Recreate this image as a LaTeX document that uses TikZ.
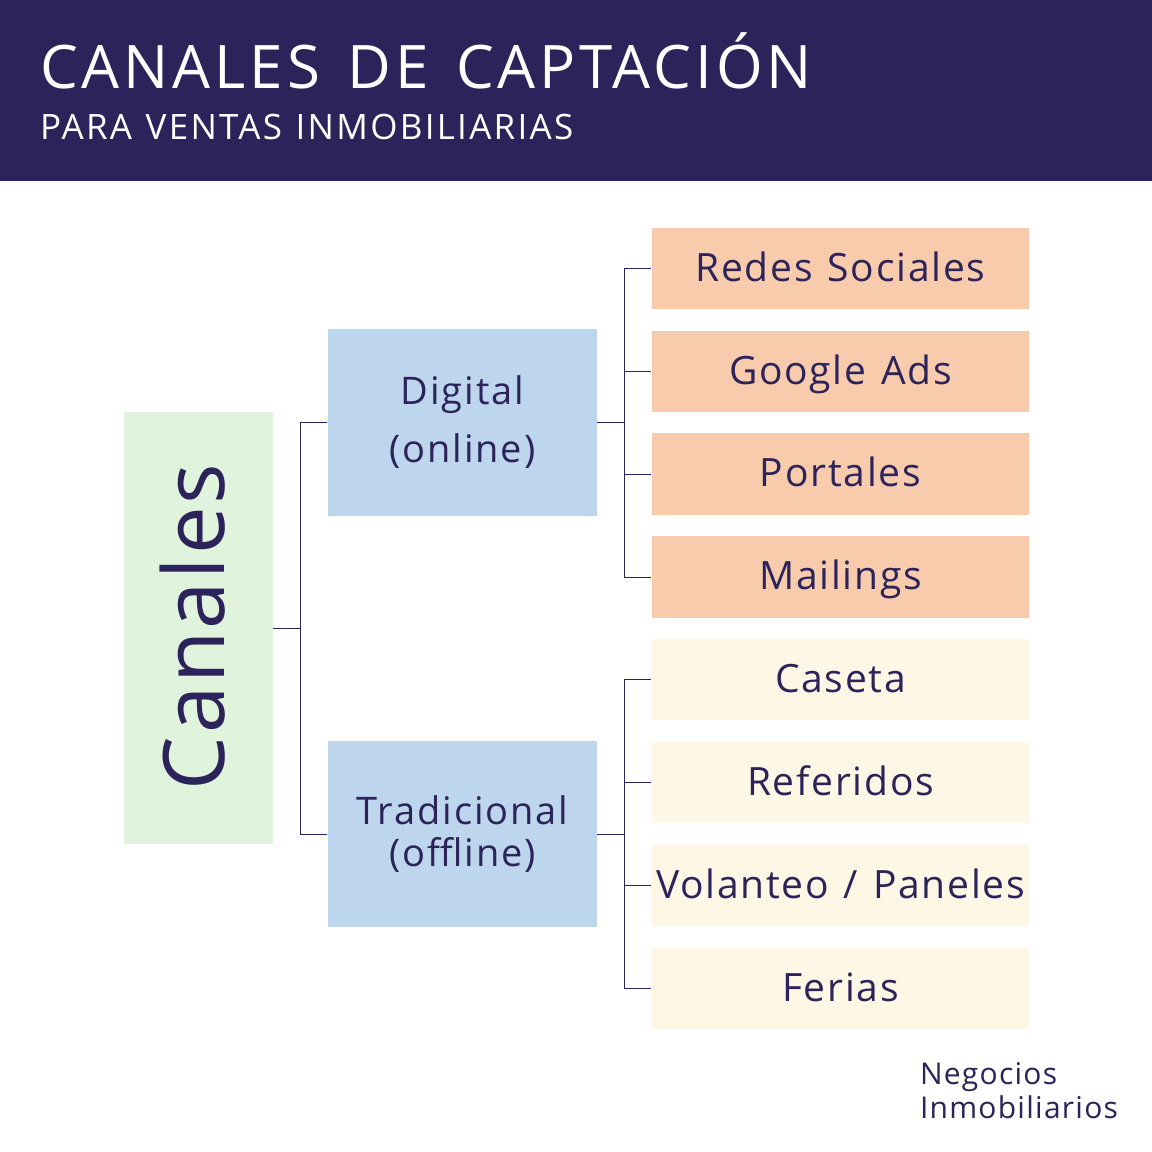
\documentclass[tikz,border=0pt]{standalone}
\usepackage{fontspec}
\setmainfont{Open Sans}
\newfontfamily\titlef[LetterSpace=6.6,WordSpace=1.4]{Open Sans}
\newfontfamily\subf[LetterSpace=6.5,WordSpace=1.2]{Open Sans}
\newfontfamily\leaff[LetterSpace=4.5,WordSpace=1.25]{Open Sans}
\newfontfamily\midf[LetterSpace=5]{Open Sans}
\newfontfamily\brandf[LetterSpace=4.2]{Open Sans}
\newfontfamily\rootf[LetterSpace=3.2]{Open Sans}
\definecolor{navy}{HTML}{2B2359}
\definecolor{bluebox}{HTML}{BDD6EE}
\definecolor{greenbox}{HTML}{E0F3DD}
\definecolor{orangebox}{HTML}{F8CBAD}
\definecolor{creambox}{HTML}{FFF7E6}
\tikzset{
  box/.style={inner sep=0pt,outer sep=0pt,anchor=center,align=center,text=navy},
  leafbox/.style={box,minimum width=377pt,minimum height=81pt,text height=25pt,text depth=0pt,font=\leaff\fontsize{39}{46}\selectfont},
  leaforange/.style={leafbox,fill=orangebox},
  leafcream/.style={leafbox,fill=creambox},
  midbox/.style={box,fill=bluebox,minimum width=269pt,minimum height=186pt},
  conn/.style={draw=navy,line width=1pt},
  gapped/.style={conn,shorten >=1pt},
  treelabel/.style={inner sep=0pt,outer sep=0pt,anchor=west}
}
\begin{document}
\begin{tikzpicture}[x=1pt,y=-1pt]
\useasboundingbox (0,0) rectangle (1152,1152);
\fill[white] (0,0) rectangle (1152,1152);
\node[fill=navy,minimum width=1152pt,minimum height=181pt,inner sep=0pt,outer sep=0pt] (banner) at (576,90.5) {};
\node[treelabel,text=white,font=\titlef\fontsize{60}{70}\selectfont] (title) at (40,61) {CANALES DE CAPTACIÓN};
\node[treelabel,text=white,font=\subf\fontsize{35}{42}\selectfont] (subtitle) at (40,127) {PARA VENTAS INMOBILIARIAS};

\node[box,fill=greenbox,minimum width=149pt,minimum height=432pt] (root) at (198.5,628) {};
\node[box,rotate=90,font=\rootf\fontsize{85}{100}\selectfont] (rootlabel) at (193,627) {Canales};

\node[midbox,minimum height=187pt,font=\midf\fontsize{38}{58}\selectfont] (digital) at (462.5,422.5) {Digital\\(online)};
\node[midbox,font=\midf\fontsize{38}{42}\selectfont] (trad) at (462.5,834) {Tradicional\\(offline)};

\node[leaforange] (a1) at (840.5,268.5) {Redes Sociales};
\node[leaforange] (a2) at (840.5,371.5) {Google Ads};
\node[leaforange,minimum height=82pt] (a3) at (840.5,474) {Portales};
\node[leaforange,minimum height=82pt] (a4) at (840.5,577) {Mailings};
\node[leafcream] (b1) at (840.5,679.5) {Caseta};
\node[leafcream] (b2) at (840.5,782.5) {Referidos};
\node[leafcream] (b3) at (840.5,885.5) {Volanteo / Paneles};
\node[leafcream] (b4) at (840.5,988.5) {Ferias};

\node[treelabel,text=navy,font=\brandf\fontsize{30}{34}\selectfont,align=left,anchor=north west] (brand) at (920,1062) {Negocios\\Inmobiliarios};

\coordinate (rootbus) at (300,628);
\coordinate (abus) at (624.5,422.5);
\coordinate (bbus) at (624.5,834);
\draw[conn] (root.east) -- (rootbus);
\draw[gapped] (rootbus) |- (digital.west);
\draw[gapped] (rootbus) |- (trad.west);
\draw[conn] (digital.east) -- (abus);
\draw[conn] (trad.east) -- (bbus);
\foreach \n in {a1,a2,a3,a4} \draw[gapped] (abus) |- (\n.west);
\foreach \n in {b1,b2,b3,b4} \draw[gapped] (bbus) |- (\n.west);
\end{tikzpicture}
\end{document}
